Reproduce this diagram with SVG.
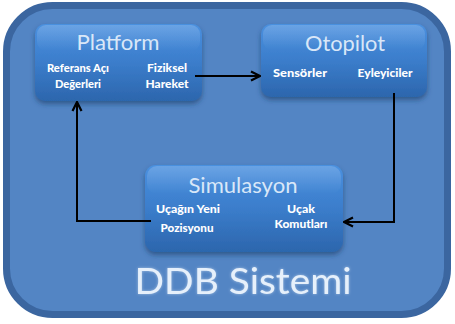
<svg xmlns="http://www.w3.org/2000/svg" width="455" height="324" viewBox="0 0 455 324">
  <defs>
    <linearGradient id="boxFill" x1="0" y1="0" x2="0" y2="1">
      <stop offset="0" stop-color="#4a90df"/>
      <stop offset="0.5" stop-color="#3b7dcb"/>
      <stop offset="1" stop-color="#2c66ad"/>
    </linearGradient>
    <linearGradient id="boxGloss" x1="0" y1="0" x2="0" y2="1">
      <stop offset="0" stop-color="#ffffff" stop-opacity="0.18"/>
      <stop offset="1" stop-color="#ffffff" stop-opacity="0"/>
    </linearGradient>
    <filter id="shadow" x="-10%" y="-10%" width="120%" height="130%">
      <feGaussianBlur in="SourceAlpha" stdDeviation="2.5"/>
      <feOffset dy="3" result="b"/>
      <feFlood flood-color="#1c3b66" flood-opacity="0.6"/>
      <feComposite in2="b" operator="in" result="s"/>
      <feMerge><feMergeNode in="s"/><feMergeNode in="SourceGraphic"/></feMerge>
    </filter>
    <filter id="glow" x="-10%" y="-30%" width="120%" height="160%">
      <feFlood flood-color="#ffffff" flood-opacity="0.45"/>
      <feComposite operator="in" in2="SourceAlpha" result="g0"/>
      <feGaussianBlur in="g0" stdDeviation="1.8" result="g"/>
      <feMerge><feMergeNode in="g"/><feMergeNode in="SourceGraphic"/></feMerge>
    </filter>
    <marker id="arrow" viewBox="0 0 12 12" refX="11" refY="6" markerWidth="12" markerHeight="12" markerUnits="userSpaceOnUse" orient="auto">
      <path d="M2,1.5 L11,6 L2,10.5" fill="none" stroke="#000" stroke-width="2.2" stroke-linejoin="miter"/>
    </marker>
    <style>
      .box { fill: url(#boxFill); filter: url(#shadow); }
      .gloss { fill: url(#boxGloss); }
      .title { font-family: "Lato", "Open Sans", sans-serif; font-size: 21px; fill: #d9e7f8; text-anchor: middle; }
      .lbl { font-family: "Lato", "Open Sans", sans-serif; font-weight: 900; font-size: 11.5px; fill: #ffffff; text-anchor: middle; }
      .wire { fill: none; stroke: #000; stroke-width: 2; marker-end: url(#arrow); }
    </style>
  </defs>

  <rect width="455" height="324" fill="#ffffff"/>

  <!-- system frame -->
  <g id="system">
    <rect x="6.5" y="5.5" width="441" height="309" rx="46" fill="#5385c4" stroke="#3b66a0" stroke-width="7"/>
    <text x="243" y="294" font-family="Lato, 'Open Sans', sans-serif" font-size="37" fill="#e6f0fb" text-anchor="middle" textLength="217" lengthAdjust="spacingAndGlyphs" filter="url(#glow)">DDB Sistemi</text>
  </g>

  <g id="platform">
    <rect class="box" x="35" y="24" width="167" height="77" rx="10"/>
    <rect class="gloss" x="37" y="25" width="163" height="26" rx="9"/>
    <text class="title" x="118" y="50" textLength="83" lengthAdjust="spacingAndGlyphs">Platform</text>
    <text class="lbl" x="78" y="72" textLength="62" lengthAdjust="spacingAndGlyphs">Referans Açı</text>
    <text class="lbl" x="78" y="88" textLength="46" lengthAdjust="spacingAndGlyphs">Değerleri</text>
    <text class="lbl" x="167" y="72" textLength="40" lengthAdjust="spacingAndGlyphs">Fiziksel</text>
    <text class="lbl" x="167" y="88" textLength="43" lengthAdjust="spacingAndGlyphs">Hareket</text>
  </g>

  <g id="otopilot">
    <rect class="box" x="261" y="24" width="166" height="73" rx="10"/>
    <rect class="gloss" x="263" y="25" width="162" height="25" rx="9"/>
    <text class="title" x="345" y="51" textLength="80" lengthAdjust="spacingAndGlyphs">Otopilot</text>
    <text class="lbl" x="300" y="77" textLength="54" lengthAdjust="spacingAndGlyphs">Sensörler</text>
    <text class="lbl" x="385" y="77" textLength="55" lengthAdjust="spacingAndGlyphs">Eyleyiciler</text>
  </g>

  <g id="simulasyon">
    <rect class="box" x="145" y="165" width="198" height="87" rx="11"/>
    <rect class="gloss" x="147" y="166" width="194" height="28" rx="10"/>
    <text class="title" x="243" y="193" textLength="109" lengthAdjust="spacingAndGlyphs">Simulasyon</text>
    <text class="lbl" x="188" y="213" textLength="64" lengthAdjust="spacingAndGlyphs">Uçağın Yeni</text>
    <text class="lbl" x="187" y="232" textLength="53" lengthAdjust="spacingAndGlyphs">Pozisyonu</text>
    <text class="lbl" x="301" y="213" textLength="28" lengthAdjust="spacingAndGlyphs">Uçak</text>
    <text class="lbl" x="301" y="228" textLength="53" lengthAdjust="spacingAndGlyphs">Komutları</text>
  </g>

  <!-- connectors -->
  <g id="connectors">
    <path class="wire" d="M195,76 H260"/>
    <path class="wire" d="M394,93 V222 H344"/>
    <path class="wire" d="M151,221 H77 V102"/>
  </g>
</svg>
